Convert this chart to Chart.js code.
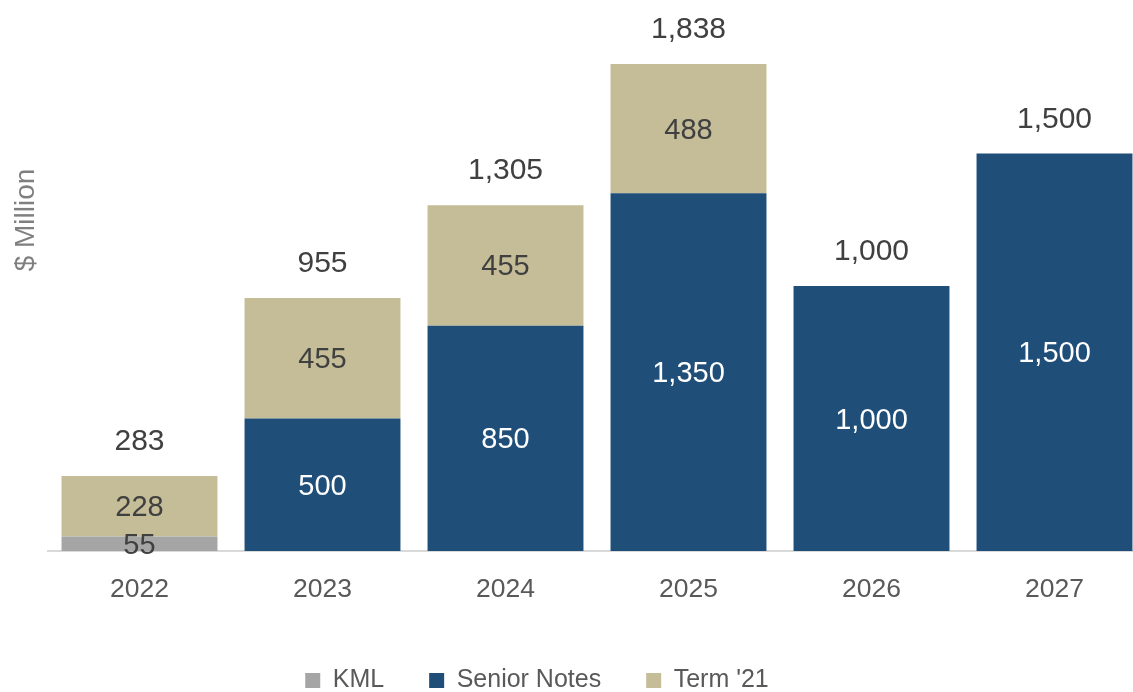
<!DOCTYPE html>
<html>
<head>
<meta charset="utf-8">
<script src="https://cdn.jsdelivr.net/npm/chart.js@4.4.1/dist/chart.umd.min.js"></script>
<style>
  html, body { margin: 0; padding: 0; background: #fff; overflow: hidden; }
  /* canvas is a bit bigger than the window: the last bar runs off the right edge */
  #wrap { width: 1133px; height: 692px; overflow: hidden; }
</style>
</head>
<body>
<div id="wrap"><canvas id="chart" width="1150" height="710"></canvas></div>
<script>
// ---- data ($ Million) ----
const years = ["2022", "2023", "2024", "2025", "2026", "2027"];
const kml = [55, 0, 0, 0, 0, 0];
const seniorNotes = [0, 500, 850, 1350, 1000, 1500];
const term21 = [228, 455, 455, 488, 0, 0];

const FONT = "'Liberation Sans', Arial, sans-serif";
const DARK = "#404040";

// подписи значений внутри сегментов и сумм над столбцами
const valueLabels = {
  id: "valueLabels",
  afterDatasetsDraw(chart) {
    const ctx = chart.ctx;
    ctx.save();
    ctx.textAlign = "center";
    ctx.textBaseline = "middle";
    ctx.font = `29px ${FONT}`;
    chart.data.datasets.forEach((ds, di) => {
      chart.getDatasetMeta(di).data.forEach((bar, i) => {
        const v = ds.data[i];
        if (!v) return;
        ctx.fillStyle = ds.labelColor;
        ctx.fillText(v.toLocaleString("en-US"), bar.x, (bar.y + bar.base) / 2 + 2);
      });
    });
    // totals
    ctx.font = `30px ${FONT}`;
    ctx.fillStyle = DARK;
    const yScale = chart.scales.y;
    years.forEach((_, i) => {
      const total = kml[i] + seniorNotes[i] + term21[i];
      const x = chart.getDatasetMeta(0).data[i].x;
      ctx.fillText(total.toLocaleString("en-US"), x, yScale.getPixelForValue(total) - 34);
    });
    // y axis title
    ctx.font = `28px ${FONT}`;
    ctx.fillStyle = "#7f7f7f";
    ctx.translate(26, 220);
    ctx.rotate(-Math.PI / 2);
    ctx.fillText("$ Million", 0, 0);
    ctx.restore();
  },
};

// legend is not centred on the page in the original, nudge it left
const legendShift = {
  id: "legendShift",
  afterLayout(chart) {
    chart.legend.left -= 60;
    chart.legend.right -= 60;
  },
};

new Chart(document.getElementById("chart"), {
  type: "bar",
  data: {
    labels: years,
    datasets: [
      { label: "KML", data: kml, backgroundColor: "#a5a5a5", labelColor: DARK },
      { label: "Senior Notes", data: seniorNotes, backgroundColor: "#1f4e79", labelColor: "#ffffff" },
      { label: "Term '21", data: term21, backgroundColor: "#c4bd97", labelColor: DARK },
    ],
  },
  options: {
    responsive: false,
    animation: false,
    layout: { padding: { left: 48, right: 4, top: 21, bottom: 7 } },
    datasets: { bar: { categoryPercentage: 1, barPercentage: 0.852, borderWidth: 0 } },
    plugins: {
      tooltip: { enabled: false },
      legend: {
        position: "bottom",
        labels: {
          boxWidth: 15, boxHeight: 15, padding: 45,
          color: "#595959", font: { family: FONT, size: 25 },
        },
      },
    },
    scales: {
      x: {
        stacked: true,
        grid: { display: false, drawTicks: false },
        border: { display: true, color: "#d9d9d9", width: 2 },
        ticks: { color: "#595959", padding: 23, font: { family: FONT, size: 26.5 } },
        afterFit(scale) { scale.height = 72; },
      },
      y: { stacked: true, display: false, min: 0, max: 2000 },
    },
  },
  plugins: [valueLabels, legendShift],
});
</script>
</body>
</html>
